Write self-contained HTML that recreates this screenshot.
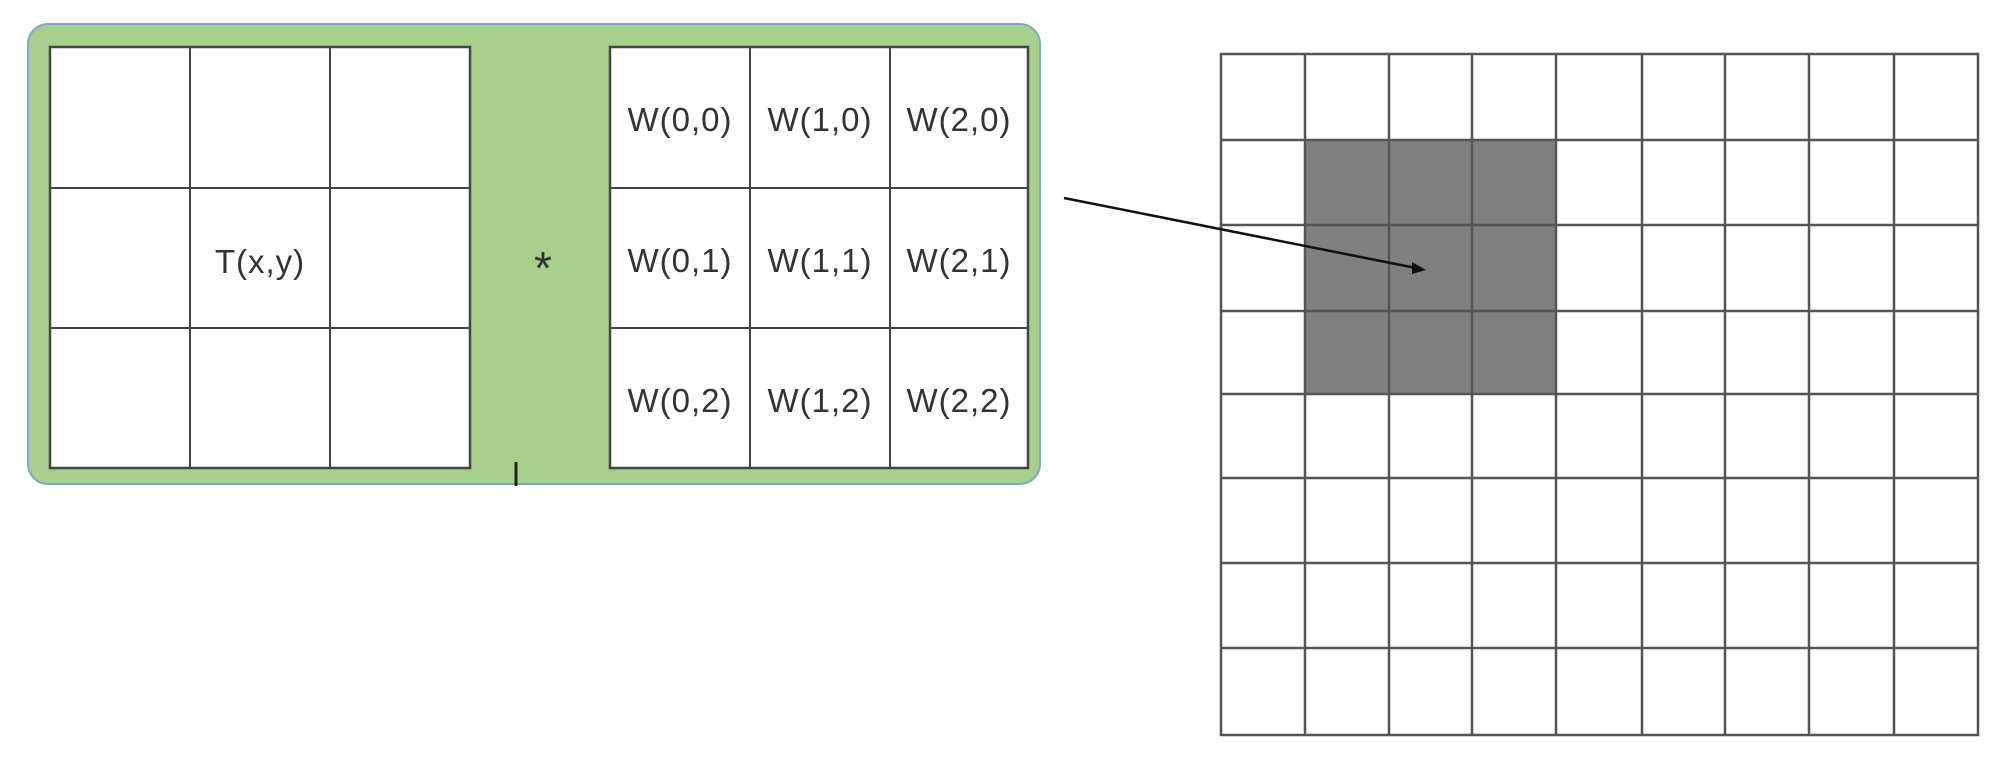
<!DOCTYPE html>
<html><head><style>
html,body{margin:0;padding:0;background:#fff;}
svg text{font-family:"Liberation Sans",sans-serif;fill:#333;}
</style></head><body>
<svg width="2003" height="754" viewBox="0 0 2003 754" xmlns="http://www.w3.org/2000/svg">
<rect x="28" y="24" width="1012" height="460" rx="20" fill="#a8d08d" stroke="#7fa8c8" stroke-width="2"/>
<!-- left grid -->
<rect x="50" y="47" width="420" height="421" fill="#fff" stroke="#444" stroke-width="2.5"/>
<g stroke="#444" stroke-width="2">
<line x1="190" y1="47" x2="190" y2="468"/><line x1="330" y1="47" x2="330" y2="468"/>
<line x1="50" y1="188" x2="470" y2="188"/><line x1="50" y1="328" x2="470" y2="328"/>
</g>
<text x="260" y="273" font-size="33" text-anchor="middle" letter-spacing="1">T(x,y)</text>
<text x="543" y="284" font-size="46" text-anchor="middle" fill="#111">*</text>
<line x1="516" y1="462" x2="516" y2="486" stroke="#222" stroke-width="3"/>
<!-- right grid -->
<rect x="610" y="47" width="418" height="421" fill="#fff" stroke="#444" stroke-width="2.5"/>
<g stroke="#444" stroke-width="2">
<line x1="750" y1="47" x2="750" y2="468"/><line x1="890" y1="47" x2="890" y2="468"/>
<line x1="610" y1="188" x2="1028" y2="188"/><line x1="610" y1="328" x2="1028" y2="328"/>
</g>
<g font-size="33" text-anchor="middle" letter-spacing="1">
<text x="680" y="131">W(0,0)</text><text x="820" y="131">W(1,0)</text><text x="959" y="131">W(2,0)</text>
<text x="680" y="272">W(0,1)</text><text x="820" y="272">W(1,1)</text><text x="959" y="272">W(2,1)</text>
<text x="680" y="412">W(0,2)</text><text x="820" y="412">W(1,2)</text><text x="959" y="412">W(2,2)</text>
</g>
<!-- big grid -->
<rect x="1305" y="140" width="251" height="254" fill="#808080"/>
<g stroke="#555" stroke-width="2.5" fill="none">
<rect x="1221" y="54" width="757" height="681"/>
<line x1="1305" y1="54" x2="1305" y2="735"/><line x1="1389" y1="54" x2="1389" y2="735"/>
<line x1="1472" y1="54" x2="1472" y2="735"/><line x1="1556" y1="54" x2="1556" y2="735"/>
<line x1="1642" y1="54" x2="1642" y2="735"/><line x1="1725" y1="54" x2="1725" y2="735"/>
<line x1="1809" y1="54" x2="1809" y2="735"/><line x1="1894" y1="54" x2="1894" y2="735"/>
<line x1="1221" y1="140" x2="1978" y2="140"/><line x1="1221" y1="225" x2="1978" y2="225"/>
<line x1="1221" y1="311" x2="1978" y2="311"/><line x1="1221" y1="394" x2="1978" y2="394"/>
<line x1="1221" y1="478" x2="1978" y2="478"/><line x1="1221" y1="563" x2="1978" y2="563"/>
<line x1="1221" y1="648" x2="1978" y2="648"/>
</g>
<!-- arrow -->
<line x1="1064" y1="198" x2="1416" y2="268" stroke="#111" stroke-width="2.5"/>
<polygon points="1426,270 1412,262 1412,274" fill="#111"/>
</svg>
</body></html>
